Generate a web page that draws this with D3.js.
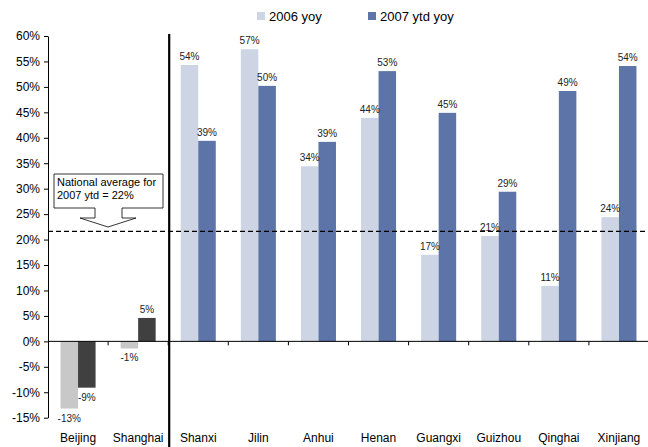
<!DOCTYPE html>
<html>
<head>
<meta charset="utf-8">
<script src="https://cdn.jsdelivr.net/npm/d3@7"></script>
<style>
  body { margin: 0; background: #fff; }
  svg { font-family: "Liberation Sans", Arial, sans-serif; }
</style>
</head>
<body>
<svg id="chart" width="648" height="447"></svg>
<script>
const regions = ["Beijing", "Shanghai", "Shanxi", "Jilin", "Anhui", "Henan", "Guangxi", "Guizhou", "Qinghai", "Xinjiang"];
const yoy2006 = [-13.2, -1.4, 54.3, 57.4, 34.4, 43.9, 17.0, 20.7, 10.9, 24.4];
const ytd2007 = [-9.1, 4.6, 39.4, 50.2, 39.2, 53.1, 44.9, 29.4, 49.2, 54.1];
const seriesNames = ["2006 yoy", "2007 ytd yoy"];
const yTicks = [-15, -10, -5, 0, 5, 10, 15, 20, 25, 30, 35, 40, 45, 50, 55, 60];
const nationalAvg = 21.6;
const municipalities = ["Beijing", "Shanghai"];

const colors = {
  light: "#cdd5e5",
  dark: "#5d74a9",
  greyLight: "#c8c8c8",
  greyDark: "#404040",
};

const margin = { top: 36, right: 0, bottom: 29, left: 48 };
const width = 648;
const height = 447;

const svg = d3.select("#chart");

const x = d3
  .scaleBand()
  .domain(regions)
  .range([margin.left, 649])
  .paddingInner(0.417)
  .paddingOuter(0.2085);

const y = d3.scaleLinear().domain([-15, 60]).range([417.7, 36]);

const sub = d3.scaleBand().domain([0, 1]).range([0, x.bandwidth()]);

// y axis
const yaxis = d3
  .axisLeft(y)
  .tickValues(yTicks)
  .tickSize(4)
  .tickSizeOuter(0)
  .tickFormat((d) => d + "%");
svg
  .append("g")
  .attr("transform", `translate(${margin.left},0)`)
  .call(yaxis)
  .call((g) => g.select(".domain").attr("stroke", "#000"))
  .call((g) =>
    g
      .selectAll("text")
      .attr("x", -8)
      .style("font-size", "12px")
      .attr("fill", "#000")
  );

// bars
const rows = regions.map((r, i) => ({ region: r, vals: [yoy2006[i], ytd2007[i]] }));

const group = svg
  .selectAll(".grp")
  .data(rows)
  .join("g")
  .attr("class", "grp")
  .attr("transform", (d) => `translate(${x(d.region)},0)`);

group
  .selectAll("rect")
  .data((d) => d.vals.map((v, k) => ({ v, k, muni: municipalities.includes(d.region) })))
  .join("rect")
  .attr("x", (d) => sub(d.k))
  .attr("width", sub.bandwidth())
  .attr("y", (d) => y(Math.max(0, d.v)))
  .attr("height", (d) => Math.abs(y(d.v) - y(0)))
  .attr("fill", (d) =>
    d.muni
      ? d.k === 0 ? colors.greyLight : colors.greyDark
      : d.k === 0 ? colors.light : colors.dark
  );

group
  .selectAll(".lbl")
  .data((d) => d.vals.map((v, k) => ({ v, k })))
  .join("text")
  .attr("class", "lbl")
  .attr("x", (d) => sub(d.k) + sub.bandwidth() / 2)
  .attr("y", (d) => (d.v >= 0 ? y(d.v) - 5 : y(d.v) + 13))
  .attr("text-anchor", "middle")
  .style("font-size", "10px")
  .attr("fill", "#222")
  .text((d) => Math.round(d.v) + "%");

// x axis line at 0
svg
  .append("line")
  .attr("x1", margin.left)
  .attr("x2", width)
  .attr("y1", y(0))
  .attr("y2", y(0))
  .attr("stroke", "#000");

const step = x.step();
svg
  .selectAll(".xtick")
  .data(regions.slice(1))
  .join("line")
  .attr("class", "xtick")
  .attr("x1", (d) => x(d) - x.paddingOuter() * step)
  .attr("x2", (d) => x(d) - x.paddingOuter() * step)
  .attr("y1", y(0))
  .attr("y2", y(0) + 4)
  .attr("stroke", "#000");

svg
  .selectAll(".xlbl")
  .data(regions)
  .join("text")
  .attr("class", "xlbl")
  .attr("x", (d) => x(d) + x.bandwidth() / 2)
  .attr("y", 442)
  .attr("text-anchor", "middle")
  .style("font-size", "12px")
  .attr("fill", "#000")
  .text((d) => d);

// national average dashed line
svg
  .append("line")
  .attr("x1", margin.left)
  .attr("x2", width)
  .attr("y1", y(nationalAvg))
  .attr("y2", y(nationalAvg))
  .attr("stroke", "#000")
  .attr("stroke-width", 1.2)
  .attr("stroke-dasharray", "5,3");

// separator between municipalities and provinces
const sepX = x("Shanxi") - x.paddingOuter() * step + 1;
svg
  .append("line")
  .attr("x1", sepX)
  .attr("x2", sepX)
  .attr("y1", 34)
  .attr("y2", height)
  .attr("stroke", "#000")
  .attr("stroke-width", 2.2);

// callout
const callout = svg.append("g");
callout
  .append("path")
  .attr(
    "d",
    "M54,174 L163,174 L163,208 L122,208 L122,218 L136,218 L108,227 L80,218 L95,218 L95,208 L54,208 Z"
  )
  .attr("fill", "#fff")
  .attr("stroke", "#000")
  .attr("stroke-width", 0.8);
callout
  .append("text")
  .attr("x", 57)
  .attr("y", 186)
  .style("font-size", "11px")
  .text("National average for");
callout
  .append("text")
  .attr("x", 57)
  .attr("y", 199)
  .style("font-size", "11px")
  .text("2007 ytd = 22%");

// legend
const legendX = [257, 368];
const legend = svg
  .selectAll(".leg")
  .data(seriesNames)
  .join("g")
  .attr("class", "leg")
  .attr("transform", (d, i) => `translate(${legendX[i]},12)`);
legend
  .append("rect")
  .attr("width", 8)
  .attr("height", 8)
  .attr("fill", (d, i) => (i === 0 ? colors.light : colors.dark));
legend
  .append("text")
  .attr("x", 12)
  .attr("y", 8.5)
  .style("font-size", "13px")
  .attr("fill", "#000")
  .text((d) => d);
</script>
</body>
</html>
